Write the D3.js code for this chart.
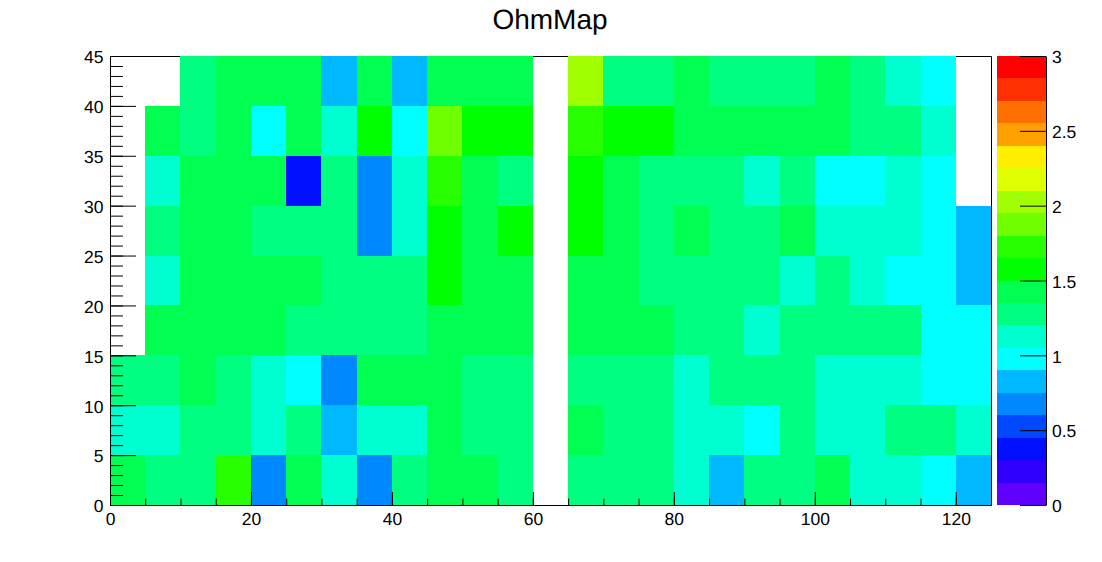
<!DOCTYPE html>
<html>
<head>
<meta charset="utf-8">
<style>
html,body{margin:0;padding:0;background:#fff;}
svg{display:block;}
text{font-family:"Liberation Sans",Arial,sans-serif;fill:#000;text-rendering:geometricPrecision;}
</style>
<script src="https://cdn.jsdelivr.net/npm/d3@7"></script>
</head>
<body>
<svg id="c" width="1102" height="562"></svg>
<script>
const chartTitle = "OhmMap";
const binWidth = 5;
const xBins = d3.range(0, 125, binWidth);
const yBins = d3.range(0, 45, binWidth);
const paletteColors = ["#6000ff","#3000ff","#0010ff","#0048ff","#0088ff","#00b8ff","#00ffff","#00ffd0","#00ff80","#00ff50",
  "#00ff00","#28ff00","#70ff00","#a0ff00","#e0ff00","#ffee00","#ffa000","#ff7000","#ff3000","#ff0000"];
const zMax = 3;
const n = null;
// Cell values, one row per y bin from y=0 upward
const row0  = [1.42,1.27,1.27,1.72,0.67,1.42,1.12,0.67,1.27,1.42,1.42,1.27,n,1.27,1.27,1.27,1.12,0.82,1.27,1.27,1.42,1.12,1.12,0.97,0.82];
const row5  = [1.12,1.12,1.27,1.27,1.12,1.27,0.82,1.12,1.12,1.42,1.27,1.27,n,1.42,1.27,1.27,1.12,1.12,0.97,1.27,1.12,1.12,1.27,1.27,1.12];
const row10 = [1.27,1.27,1.42,1.27,1.12,0.97,0.67,1.42,1.42,1.42,1.27,1.27,n,1.27,1.27,1.27,1.12,1.27,1.27,1.27,1.12,1.12,1.12,0.97,0.97];
const row15 = [n,1.42,1.42,1.42,1.42,1.27,1.27,1.27,1.27,1.42,1.42,1.42,n,1.42,1.42,1.42,1.27,1.27,1.12,1.27,1.27,1.27,1.27,0.97,0.97];
const row20 = [n,1.12,1.42,1.42,1.42,1.42,1.27,1.27,1.27,1.57,1.42,1.42,n,1.42,1.42,1.27,1.27,1.27,1.27,1.12,1.27,1.12,0.97,0.97,0.82];
const row25 = [n,1.27,1.42,1.42,1.27,1.27,1.27,0.67,1.12,1.57,1.42,1.57,n,1.57,1.42,1.27,1.42,1.27,1.27,1.42,1.12,1.12,1.12,0.97,0.82];
const row30 = [n,1.12,1.42,1.42,1.42,0.37,1.27,0.67,1.12,1.72,1.42,1.27,n,1.57,1.42,1.27,1.27,1.27,1.12,1.27,0.97,0.97,1.12,0.97,n];
const row35 = [n,1.42,1.27,1.42,0.97,1.42,1.12,1.57,0.97,1.87,1.57,1.57,n,1.72,1.57,1.57,1.42,1.42,1.42,1.42,1.42,1.27,1.27,1.12,n];
const row40 = [n,n,1.27,1.42,1.42,1.42,0.82,1.42,0.82,1.42,1.42,1.42,n,2.02,1.27,1.27,1.42,1.27,1.27,1.27,1.42,1.27,1.12,0.97,n];
const rows = [row0,row5,row10,row15,row20,row25,row30,row35,row40];
const xMajor = [0,20,40,60,80,100,120];
const xMinor = d3.range(0, 126, 5);
const yMajor = [0,5,10,15,20,25,30,35,40,45];
const yMinor = d3.range(0, 46, 1);
const zMajor = [0,0.5,1,1.5,2,2.5,3];

const svg = d3.select("#c");
const L = 110, R = 991, T = 56, B = 505;
const PL = 997, PR = 1046;
const x = d3.scaleLinear().domain([0,125]).range([L,R]);
const y = d3.scaleLinear().domain([0,45]).range([B,T]);
const z = d3.scaleLinear().domain([0,zMax]).range([B,T]);
const color = d3.scaleQuantize().domain([0,zMax]).range(paletteColors);

// Title
svg.append("text").attr("x",550).attr("y",29).attr("text-anchor","middle")
  .attr("font-size",28).text(chartTitle);

const line = (x1,y1,x2,y2) => svg.append("line").attr("x1",x1+0.5).attr("y1",y1+0.5).attr("x2",x2+0.5).attr("y2",y2+0.5)
  .attr("stroke","#000").attr("stroke-width",1);

// Top frame sits under the cells
line(L,T,R,T);

// Cells
const cells = [];
rows.forEach((r,j)=>r.forEach((v,i)=>{ if(v!==null) cells.push({x:xBins[i],y:yBins[j],v}); }));
svg.append("g").attr("shape-rendering","crispEdges").selectAll("rect").data(cells).join("rect")
  .attr("x",d=>x(d.x)).attr("y",d=>y(d.y+binWidth))
  .attr("width",d=>x(d.x+binWidth)-x(d.x))
  .attr("height",d=>y(d.y)-y(d.y+binWidth))
  .attr("fill",d=>color(d.v));

// Palette
const bandH = zMax/paletteColors.length;
svg.append("g").attr("shape-rendering","crispEdges").selectAll("rect").data(paletteColors).join("rect")
  .attr("x",PL).attr("width",PR-PL)
  .attr("y",(d,i)=>z((i+1)*bandH)).attr("height",(d,i)=>z(i*bandH)-z((i+1)*bandH))
  .attr("fill",d=>d);

function style(g){
  g.selectAll("path").attr("stroke","#000").attr("stroke-width",1);
  g.selectAll("line").attr("stroke","#000").attr("stroke-width",1);
  g.selectAll("text").attr("font-family",'"Liberation Sans",Arial,sans-serif').attr("font-size",17.5).attr("fill","#000");
}

// X axis
svg.append("g").attr("transform",`translate(0,${B})`)
  .call(d3.axisBottom(x).tickValues(xMinor).tickFormat("").tickSizeInner(-6.5).tickSizeOuter(0)).call(style);
svg.append("g").attr("transform",`translate(0,${B})`)
  .call(d3.axisBottom(x).tickValues(xMajor).tickFormat(d3.format("d")).tickSizeInner(-13).tickSizeOuter(0))
  .call(style).call(g=>g.selectAll("text").attr("dy",0).attr("y",20));

// Y axis
svg.append("g").attr("transform",`translate(${L},0)`)
  .call(d3.axisLeft(y).tickValues(yMinor).tickFormat("").tickSizeInner(-13).tickSizeOuter(0)).call(style);
svg.append("g").attr("transform",`translate(${L},0)`)
  .call(d3.axisLeft(y).tickValues(yMajor).tickFormat(d3.format("d")).tickSizeInner(-26).tickSizeOuter(0))
  .call(style).call(g=>g.selectAll("text").attr("x",-6.5).attr("dy",6.8));

// Right frame
line(R,T,R,B);

// Palette axis
svg.append("g").attr("transform",`translate(${PR},0)`)
  .call(d3.axisRight(z).tickValues(zMajor).tickFormat(d3.format("")).tickSizeInner(-26).tickSizeOuter(0))
  .call(style).call(g=>g.selectAll("text").attr("x",6).attr("dy",6.8));
</script>
</body>
</html>
